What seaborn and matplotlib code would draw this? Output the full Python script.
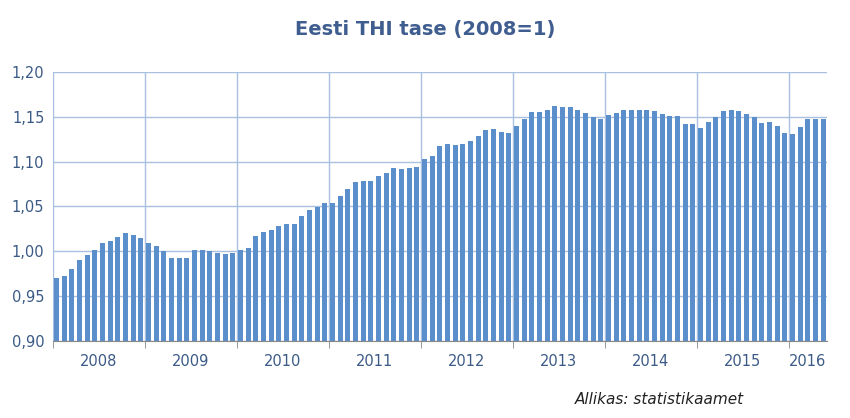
import matplotlib
matplotlib.use("Agg")
import matplotlib.pyplot as plt
import seaborn as sns
import numpy as np
import pandas as pd

# THI tase kuude kaupa (2008 jaanuar = 1)
v2008 = [0.970, 0.973, 0.980, 0.990, 0.996, 1.002, 1.009, 1.011, 1.016, 1.020, 1.018, 1.015]
v2009 = [1.009, 1.006, 1.000, 0.993, 0.993, 0.993, 1.002, 1.002, 1.000, 0.998, 0.997, 0.998]
v2010 = [1.002, 1.004, 1.017, 1.022, 1.024, 1.028, 1.031, 1.031, 1.039, 1.046, 1.049, 1.054]
v2011 = [1.054, 1.062, 1.070, 1.077, 1.078, 1.078, 1.084, 1.087, 1.093, 1.092, 1.093, 1.094]
v2012 = [1.103, 1.106, 1.117, 1.120, 1.119, 1.120, 1.123, 1.129, 1.135, 1.136, 1.133, 1.132]
v2013 = [1.140, 1.147, 1.155, 1.155, 1.157, 1.162, 1.161, 1.161, 1.157, 1.154, 1.150, 1.148]
v2014 = [1.152, 1.154, 1.157, 1.157, 1.158, 1.158, 1.156, 1.153, 1.151, 1.151, 1.142, 1.142]
v2015 = [1.138, 1.144, 1.150, 1.156, 1.158, 1.156, 1.153, 1.150, 1.143, 1.144, 1.140, 1.132]
v2016 = [1.131, 1.139, 1.148, 1.148, 1.148]
aastad = ["2008", "2009", "2010", "2011", "2012", "2013", "2014", "2015", "2016"]

koik = [v2008, v2009, v2010, v2011, v2012, v2013, v2014, v2015, v2016]
vaartused = [v for aasta in koik for v in aasta]
df = pd.DataFrame({"i": range(len(vaartused)), "thi": vaartused})

fig = plt.figure(figsize=(8.5, 4.18), dpi=100)
ax = fig.add_axes([0.062, 0.184, 0.911, 0.644])

sns.barplot(data=df, x="i", y="thi", color="#5B8FCC", saturation=1, width=0.68, ax=ax, zorder=2)

ax.set_ylim(0.90, 1.20)
ax.set_xlim(-0.5, len(vaartused) - 0.5)
ax.set_yticks(np.arange(0.90, 1.2001, 0.05))
ax.set_yticklabels([f"{t:.2f}".replace(".", ",") for t in np.arange(0.90, 1.2001, 0.05)])
ax.yaxis.grid(True, color="#A9C1E0", lw=1, zorder=0)

# aastate piirid
piirid = [-0.5]
for a in koik:
    piirid.append(piirid[-1] + len(a))
for p in piirid[:-1]:
    ax.axvline(p, color="#A9C1E0", lw=1, zorder=0)
ax.set_xticks(piirid[:-1], minor=True)
keskmised = [(piirid[k] + piirid[k + 1]) / 2 for k in range(len(aastad))]
ax.set_xticks(keskmised)
ax.set_xticklabels(aastad)
ax.tick_params(axis="x", which="major", length=0, pad=9, labelsize=10.5, labelcolor="#3B5A85")
ax.tick_params(axis="x", which="minor", length=5, color="#888888")
ax.tick_params(axis="y", length=0, labelsize=10.5, labelcolor="#3B5A85", pad=6)
ax.set_xlabel("")
ax.set_ylabel("")
for s in ["top", "right", "left"]:
    ax.spines[s].set_visible(False)
ax.spines["bottom"].set_color("#888888")

fig.text(0.5, 0.93, "Eesti THI tase (2008=1)", ha="center", va="center",
         fontsize=14, fontweight="bold", color="#3F5E8F")
fig.text(0.875, 0.045, "Allikas: statistikaamet", ha="right", va="center",
         fontsize=11, style="italic", color="#222222")

fig.savefig("out.png", dpi=100)
